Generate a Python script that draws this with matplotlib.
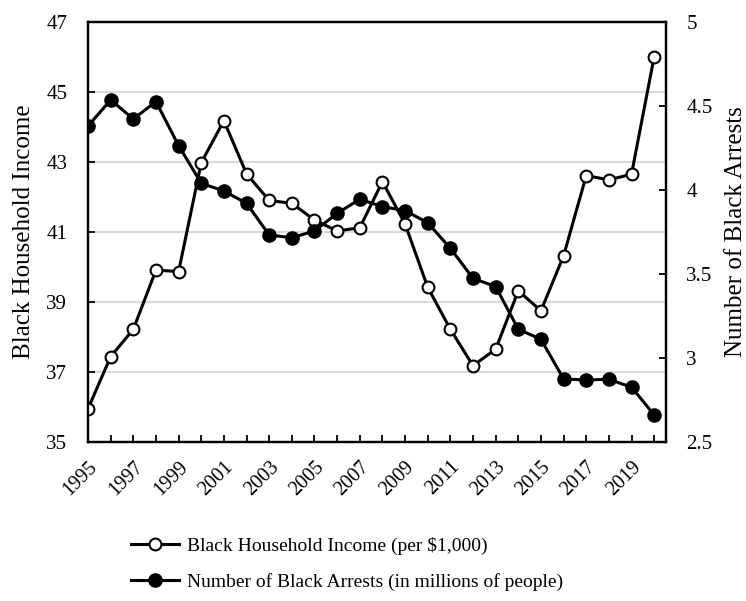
import numpy as np
import matplotlib
matplotlib.use('Agg')
import matplotlib.pyplot as plt
from matplotlib.lines import Line2D

# data
years = list(range(1995, 2021))
income = [35.95, 37.44, 38.22, 39.91, 39.87, 42.98, 44.18, 42.66, 41.90, 41.82,
          41.34, 41.03, 41.12, 42.44, 41.23, 39.42, 38.22, 37.18, 37.65, 39.32,
          38.75, 40.32, 42.61, 42.49, 42.65, 46.01]
arrests = [4.381, 4.536, 4.423, 4.526, 4.264, 4.040, 3.994, 3.921, 3.732, 3.716,
           3.756, 3.861, 3.945, 3.901, 3.877, 3.805, 3.653, 3.474, 3.425, 3.171,
           3.111, 2.875, 2.869, 2.873, 2.826, 2.661]
left_ticks = [35, 37, 39, 41, 43, 45, 47]
right_ticks = [2.5, 3, 3.5, 4, 4.5, 5]
right_labels = ['2.5', '3', '3.5', '4', '4.5', '5']
year_ticks = list(range(1995, 2021, 2))

plt.rcParams['font.family'] = ['Liberation Serif', 'DejaVu Serif']

fig = plt.figure(figsize=(7.46, 6.01), dpi=100)
ax = fig.add_axes([0.118, 0.2646, 0.775, 0.6988])
ax2 = ax.twinx()

# income, left axis
ax.plot(years, income, color='black', lw=2.2, marker='o', ms=8.5,
        mfc='white', mec='black', mew=1.5, zorder=3)
ax.set_ylim(35, 47)
ax.set_yticks(left_ticks)
ax.set_xlim(1995, 2020.53)
ax.set_xticks(years)
ax.set_xticklabels([str(y) if y in year_ticks else '' for y in years],
                   rotation=45, ha='right', va='top', rotation_mode='anchor')
for g in [37, 39, 41, 43, 45]:
    ax.axhline(g, color='#d9d9d9', lw=1.5, zorder=0)
ax.set_ylabel('Black Household Income', fontsize=18, va='center')
ax.yaxis.set_label_coords(-0.111, 0.5)
ax.tick_params(axis='both', direction='in', length=5, width=1.3)
ax.tick_params(axis='y', pad=15, labelsize=15)
ax.tick_params(axis='x', pad=11, labelsize=14.5)

# arrests, right axis
ax2.plot(years, arrests, color='black', lw=2.2, marker='o', ms=9,
         mfc='black', mec='black', mew=1.5, zorder=3)
ax2.set_ylim(2.5, 5)
ax2.set_yticks(right_ticks)
ax2.set_yticklabels(right_labels)
ax2.set_ylabel('Number of Black Arrests', fontsize=18, va='center')
ax2.yaxis.set_label_coords(1.121, 0.5)
ax2.tick_params(axis='y', direction='in', length=5, width=1.3, labelsize=15, pad=14.5)

for a in (ax, ax2):
    for s in a.spines.values():
        s.set_linewidth(1.6)

handles = [
    Line2D([], [], color='black', lw=2.2, marker='o', ms=8.5, mfc='white', mec='black', mew=1.5),
    Line2D([], [], color='black', lw=2.2, marker='o', ms=9, mfc='black', mec='black', mew=1.5),
]
labels = ['Black Household Income (per $1,000)',
          'Number of Black Arrests (in millions of people)']
fig.legend(handles, labels, loc='upper left', bbox_to_anchor=(0.165, 0.12),
           frameon=False, fontsize=14, handlelength=2.5, handletextpad=0.4,
           labelspacing=0.95, borderaxespad=0)

fig.savefig('out.png', dpi=100)
